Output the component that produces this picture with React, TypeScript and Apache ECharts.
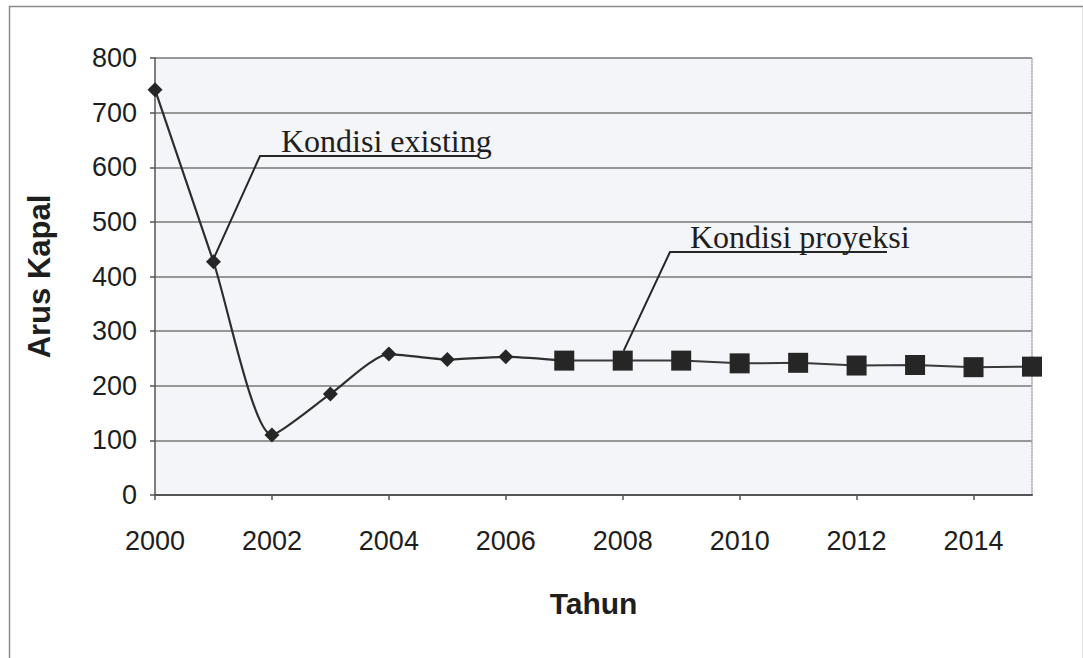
import React, { useEffect, useRef } from "react";
import * as echarts from "echarts";

// Ship traffic per year: recorded values and the projected continuation
const years = [
  "2000", "2001", "2002", "2003", "2004", "2005", "2006", "2007",
  "2008", "2009", "2010", "2011", "2012", "2013", "2014", "2015",
];
const existing = [742, 427, 110, 185, 258, 248, 253, 246, null, null, null, null, null, null, null, null];
const projection = [null, null, null, null, null, null, null, 246, 246, 246, 241, 242, 237, 238, 234, 235];

const yMin = 0;
const yMax = 800;
const yStep = 100;

const labelExisting = "Kondisi existing";
const labelProjection = "Kondisi proyeksi";
const xName = "Tahun";
const yName = "Arus Kapal";

const SANS = "'Liberation Sans', Arial, Helvetica, sans-serif";
const SERIF = "'Liberation Serif', 'Times New Roman', Times, serif";
const INK = "#1e1e1e";

export default function App() {
  const ref = useRef<HTMLDivElement>(null);

  useEffect(() => {
    if (!ref.current) return;
    const chart = echarts.init(ref.current, null, { renderer: "svg" });

    chart.setOption({
      animation: false,
      backgroundColor: "#ffffff",
      grid: {
        left: 155,
        right: 51,
        top: 58,
        bottom: 163,
        show: true,
        backgroundColor: "#f4f5f8",
        borderWidth: 0,
      },
      xAxis: [
        {
          type: "category",
          data: years,
          boundaryGap: false,
          name: xName,
          nameLocation: "middle",
          nameGap: 93,
          nameTextStyle: { fontFamily: SANS, fontSize: 30, fontWeight: "bold", color: INK },
          axisLine: { lineStyle: { color: "#555", width: 2 } },
          axisTick: { show: true, interval: 1, length: 5, lineStyle: { color: "#555", width: 1.5 } },
          axisLabel: { interval: 1, margin: 32, fontFamily: SANS, fontSize: 27, color: INK },
          splitLine: { show: false },
        },
      ],
      yAxis: [
        {
          type: "value",
          min: yMin,
          max: yMax,
          interval: yStep,
          name: yName,
          nameLocation: "middle",
          nameGap: 100,
          nameRotate: 90,
          nameTextStyle: { fontFamily: SANS, fontSize: 31, fontWeight: "bold", color: INK },
          axisLine: { show: true, lineStyle: { color: "#555", width: 1.5 } },
          axisTick: { show: true, length: 5, lineStyle: { color: "#555", width: 1.5 } },
          axisLabel: { margin: 18, fontFamily: SANS, fontSize: 27, color: INK },
          splitLine: { show: true, lineStyle: { color: "#777", width: 1.5 } },
        },
        {
          type: "value",
          position: "right",
          min: yMin,
          max: yMax,
          interval: yStep,
          axisLine: { show: true, lineStyle: { color: "#aaa", width: 1.5, type: "dotted" } },
          axisTick: { show: false },
          axisLabel: { show: false },
          splitLine: { show: false },
        },
      ],
      series: [
        {
          name: labelExisting,
          type: "line",
          data: existing,
          smooth: 0.22,
          symbol: "diamond",
          symbolSize: 15,
          lineStyle: { color: "#2e2e2e", width: 2.2 },
          itemStyle: { color: "#262626" },
          z: 2,
        },
        {
          name: labelProjection,
          type: "line",
          data: projection,
          symbol: "rect",
          symbolSize: 20,
          lineStyle: { color: "#3a3a3a", width: 2 },
          itemStyle: { color: "#262626" },
          z: 3,
        },
      ],
    });

    // Callout leaders drawn from the plotted points up to their captions
    const pE = chart.convertToPixel({ xAxisIndex: 0, yAxisIndex: 0 }, [1, existing[1] as number]);
    const pP = chart.convertToPixel({ xAxisIndex: 0, yAxisIndex: 0 }, [8, projection[8] as number]);

    chart.setOption({
      graphic: [
        {
          type: "rect",
          left: 7,
          top: 4,
          shape: { width: 1074, height: 700 },
          style: { fill: "none", stroke: "#8a8a8a", lineWidth: 1.5 },
          silent: true,
          z: 0,
        },
        {
          type: "polyline",
          shape: { points: [[pE[0] + 1, pE[1] - 5], [260, 156], [478, 156]] },
          style: { stroke: "#262626", lineWidth: 2, fill: "none" },
          z: 10,
        },
        {
          type: "text",
          x: 281,
          y: 141,
          style: {
            text: labelExisting,
            font: `32px ${SERIF}`,
            fill: INK,
            align: "left",
            verticalAlign: "middle",
          },
          z: 10,
        },
        {
          type: "polyline",
          shape: { points: [[pP[0] + 1, pP[1] - 10], [670, 252], [887, 252]] },
          style: { stroke: "#262626", lineWidth: 2, fill: "none" },
          z: 10,
        },
        {
          type: "text",
          x: 690,
          y: 237,
          style: {
            text: labelProjection,
            font: `32px ${SERIF}`,
            fill: INK,
            align: "left",
            verticalAlign: "middle",
          },
          z: 10,
        },
      ],
    });

    return () => chart.dispose();
  }, []);

  return (
    <div
      ref={ref}
      style={{ position: "fixed", left: 0, top: 0, width: 1083, height: 658, background: "#fff" }}
    />
  );
}
